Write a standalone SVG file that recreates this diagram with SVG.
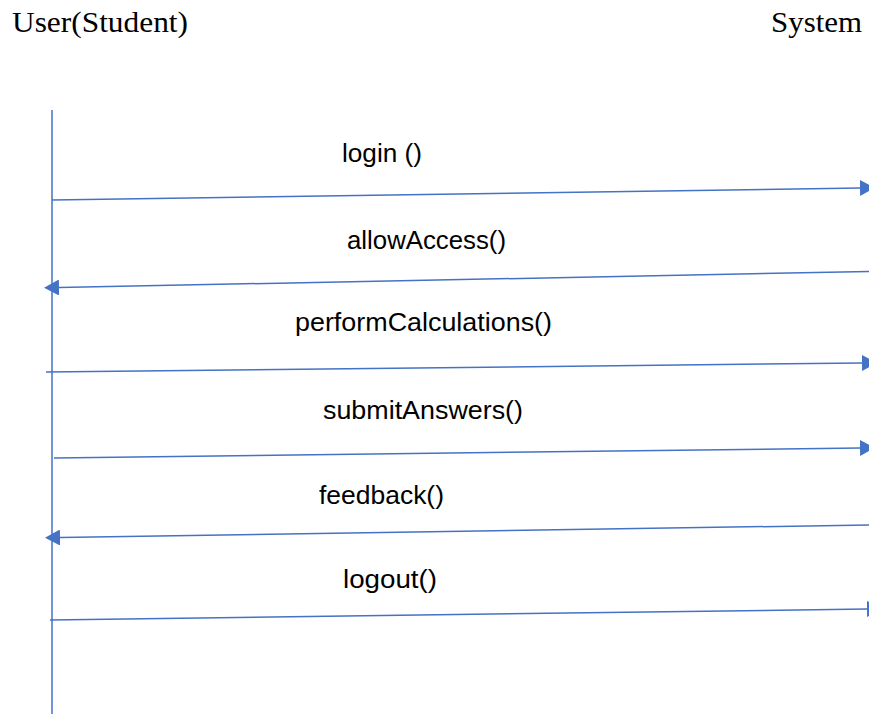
<svg xmlns="http://www.w3.org/2000/svg" width="869" height="714" viewBox="0 0 869 714">
  <style>
    .head { font-family: "Liberation Serif", "Times New Roman", serif; font-size: 30px; fill: #000; }
    .msg { font-family: "Liberation Sans", Arial, sans-serif; font-size: 25px; fill: #000; }
    .line { stroke: #4472C4; stroke-width: 1.5; fill: none; }
    .call { stroke: #4472C4; stroke-width: 1.5; fill: none; marker-end: url(#head); }
  </style>
  <defs>
    <marker id="head" markerUnits="userSpaceOnUse" markerWidth="16" markerHeight="16" refX="0" refY="8" orient="auto" viewBox="0 0 16 16">
      <path d="M0,0 L15,8 L0,16 Z" fill="#4472C4"/>
    </marker>
  </defs>
  <rect width="869" height="714" fill="#fff"/>

  <!-- participants -->
  <g id="user">
    <text class="head" x="12" y="32" textLength="176" lengthAdjust="spacingAndGlyphs">User(Student)</text>
    <line class="line" x1="52" y1="110" x2="52" y2="714"/>
  </g>
  <g id="system">
    <text class="head" x="771" y="32" textLength="91" lengthAdjust="spacingAndGlyphs">System</text>
  </g>

  <!-- messages -->
  <g id="connectors">
    <line class="call" x1="52" y1="200" x2="860" y2="188"/>
    <line class="call" x1="869" y1="271.5" x2="59" y2="287.5"/>
    <line class="call" x1="46" y1="372" x2="862" y2="363"/>
    <line class="call" x1="54" y1="458" x2="860" y2="448"/>
    <line class="call" x1="869" y1="525" x2="60" y2="537.5"/>
    <line class="call" x1="50" y1="620" x2="867" y2="609"/>
  </g>

  <g id="labels">
    <text class="msg" x="342" y="162" textLength="80" lengthAdjust="spacingAndGlyphs">login ()</text>
    <text class="msg" x="347" y="249" textLength="159" lengthAdjust="spacingAndGlyphs">allowAccess()</text>
    <text class="msg" x="295" y="331" textLength="257" lengthAdjust="spacingAndGlyphs">performCalculations()</text>
    <text class="msg" x="323" y="419" textLength="200" lengthAdjust="spacingAndGlyphs">submitAnswers()</text>
    <text class="msg" x="319" y="504" textLength="125" lengthAdjust="spacingAndGlyphs">feedback()</text>
    <text class="msg" x="343" y="588" textLength="94" lengthAdjust="spacingAndGlyphs">logout()</text>
  </g>
</svg>
